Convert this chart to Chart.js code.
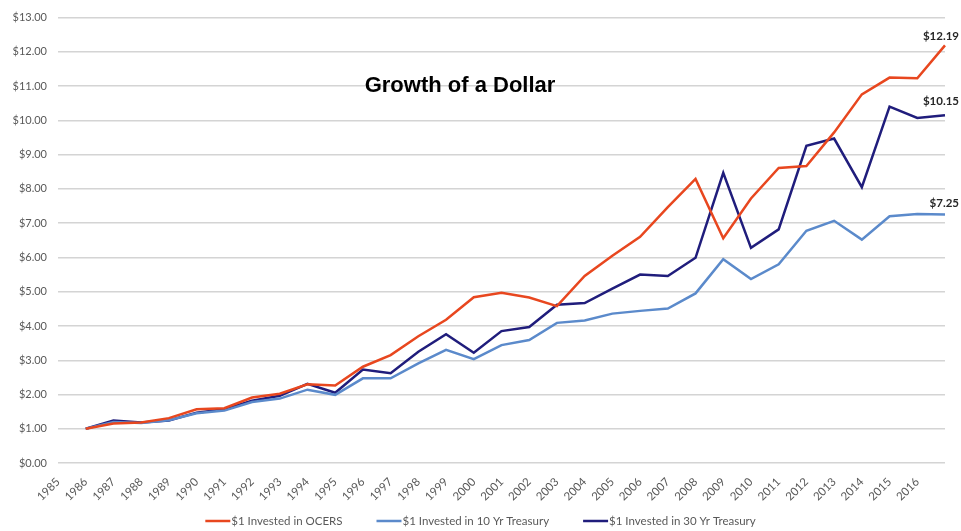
<!DOCTYPE html>
<html>
<head>
<meta charset="utf-8">
<script src="https://cdn.jsdelivr.net/npm/chart.js@4"></script>
<style>
  html, body { margin: 0; padding: 0; background: #fff; overflow: hidden; }
</style>
</head>
<body>
<canvas id="myChart" width="961" height="531"></canvas>
<script>
// years on the category axis (last one has no label)
const years = ['1985','1986','1987','1988','1989','1990','1991','1992','1993','1994','1995',
  '1996','1997','1998','1999','2000','2001','2002','2003','2004','2005','2006','2007',
  '2008','2009','2010','2011','2012','2013','2014','2015','2016',''];

const ocers = [null,1.00,1.15,1.18,1.31,1.57,1.60,1.91,2.02,2.30,2.26,2.81,3.15,3.70,4.18,4.84,4.97,
  4.83,4.58,5.46,6.05,6.60,7.47,8.29,6.56,7.72,8.61,8.67,9.65,10.76,11.25,11.23,12.19];
const treasury10 = [null,1.00,1.20,1.17,1.25,1.45,1.53,1.78,1.88,2.14,1.99,2.47,2.47,2.91,3.30,3.03,3.44,
  3.59,4.09,4.16,4.36,4.44,4.51,4.95,5.95,5.37,5.80,6.78,7.07,6.52,7.20,7.27,7.25];
const treasury30 = [null,1.00,1.24,1.18,1.24,1.47,1.57,1.82,1.96,2.31,2.05,2.73,2.62,3.25,3.76,3.22,3.85,
  3.97,4.62,4.67,5.09,5.50,5.46,5.99,8.47,6.28,6.82,9.26,9.47,8.05,10.40,10.07,10.15];

const endLabels = ['$12.19', '$7.25', '$10.15'];

const labelFont = 'Lato, "Open Sans", sans-serif';

// bold value labels at the end of each line, the title, and the legend row
const extras = {
  id: 'extras',
  afterDatasetsDraw(chart) {
    const ctx = chart.ctx;
    ctx.save();

    // end-of-line values
    const lift = [9, 11, 14];
    ctx.font = 'bold 11.5px ' + labelFont;
    ctx.fillStyle = '#262626';
    ctx.textAlign = 'right';
    ctx.textBaseline = 'middle';
    chart.data.datasets.forEach((ds, i) => {
      const pts = chart.getDatasetMeta(i).data;
      const p = pts[pts.length - 1];
      ctx.fillText(endLabels[i], p.x + 14, p.y - lift[i]);
    });

    // title
    ctx.font = 'bold 22px "Liberation Sans", Arial, sans-serif';
    ctx.fillStyle = '#000';
    ctx.textAlign = 'center';
    ctx.fillText('Growth of a Dollar', 460, 86);

    // legend along the bottom, centred
    ctx.font = '11.5px ' + labelFont;
    ctx.textAlign = 'left';
    const sample = 25, gap = 1, spacing = 34, y = 521;
    const items = chart.data.datasets.map(ds => ({
      text: ds.label, color: ds.borderColor,
      w: sample + gap + ctx.measureText(ds.label).width
    }));
    const total = items.reduce((s, it) => s + it.w, 0) + spacing * (items.length - 1);
    let x = chart.width / 2 - total / 2;
    items.forEach(it => {
      ctx.strokeStyle = it.color;
      ctx.lineWidth = 2.5;
      ctx.beginPath();
      ctx.moveTo(x, y);
      ctx.lineTo(x + sample, y);
      ctx.stroke();
      ctx.fillStyle = '#595959';
      ctx.fillText(it.text, x + sample + gap, y);
      x += it.w + spacing;
    });
    ctx.restore();
  }
};

new Chart(document.getElementById('myChart'), {
  type: 'line',
  data: {
    labels: years,
    datasets: [{
      label: '$1 Invested in OCERS',
      data: ocers,
      borderColor: '#e8471f',
      backgroundColor: '#e8471f',
      borderWidth: 2.5
    }, {
      label: '$1 Invested in 10 Yr Treasury',
      data: treasury10,
      borderColor: '#5b8acb',
      backgroundColor: '#5b8acb',
      borderWidth: 2.5
    }, {
      label: '$1 Invested in 30 Yr Treasury',
      data: treasury30,
      borderColor: '#201d7c',
      backgroundColor: '#201d7c',
      borderWidth: 2.5
    }]
  },
  options: {
    responsive: false,
    animation: false,
    layout: { padding: { top: 9, right: 16, left: 0, bottom: 0 } },
    elements: {
      line: { tension: 0 },
      point: { radius: 0 }
    },
    scales: {
      x: {
        offset: false,
        afterFit(scale) { scale.height = 68; },
        grid: { display: false },
        border: { display: false },
        ticks: {
          color: '#595959',
          font: { family: labelFont, size: 11.5 },
          minRotation: 45,
          maxRotation: 45,
          autoSkip: false,
          padding: 4
        }
      },
      y: {
        min: 0,
        max: 13,
        afterFit(scale) { scale.width = 58; },
        grid: { color: '#d4d4d4', lineWidth: 1.4, drawTicks: false },
        border: { display: false },
        ticks: {
          stepSize: 1,
          color: '#595959',
          padding: 11,
          font: { family: labelFont, size: 11 },
          callback: v => '$' + v.toFixed(2)
        }
      }
    },
    plugins: {
      legend: { display: false },
      tooltip: { enabled: false }
    }
  },
  plugins: [extras]
});
</script>
</body>
</html>
